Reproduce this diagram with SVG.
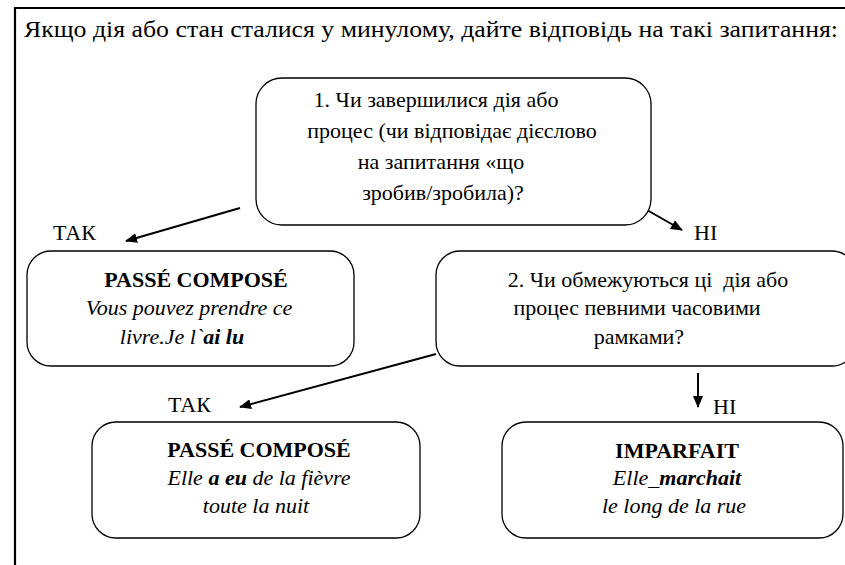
<svg xmlns="http://www.w3.org/2000/svg" width="845" height="565" viewBox="0 0 845 565">
<defs>
  <marker id="ah" markerWidth="12" markerHeight="10" refX="11" refY="5" orient="auto" markerUnits="userSpaceOnUse">
    <path d="M0,0 L12,5 L0,10 Z" fill="#000"/>
  </marker>
</defs>
<rect width="845" height="565" fill="#fff"/>
<g id="frame">
  <path d="M15,565 L15,8 L845,8" fill="none" stroke="#000" stroke-width="2.2"/>
  <text x="24" y="37" font-family="Liberation Serif" font-size="24" textLength="814" lengthAdjust="spacingAndGlyphs">Якщо дія або стан сталися у минулому, дайте відповідь на такі запитання:</text>
</g>
<g id="connectors" stroke="#000" stroke-width="2" fill="none">
  <line x1="240" y1="208" x2="126" y2="241" marker-end="url(#ah)"/>
  <line x1="633" y1="202" x2="682" y2="230" marker-end="url(#ah)"/>
  <line x1="436" y1="354" x2="240" y2="407" marker-end="url(#ah)"/>
  <line x1="698" y1="373" x2="698" y2="407" marker-end="url(#ah)"/>
</g>
<g id="labels">
  <text x="53" y="240" font-family="Liberation Serif" font-size="22">ТАК</text>
  <text x="694" y="240" font-family="Liberation Serif" font-size="22">НІ</text>
  <text x="168" y="412" font-family="Liberation Serif" font-size="22">ТАК</text>
  <text x="713" y="414" font-family="Liberation Serif" font-size="22">НІ</text>
</g>
<g id="node1">
  <rect x="256" y="78" width="395" height="147" rx="26" fill="#fff" stroke="#000" stroke-width="1.3"/>
  <text text-anchor="middle" x="436" y="107" font-family="Liberation Serif" font-size="22">1. Чи завершилися дія або</text>
  <text text-anchor="middle" x="452" y="138" font-family="Liberation Serif" font-size="22">процес (чи відповідає дієслово</text>
  <text text-anchor="middle" x="441" y="169" font-family="Liberation Serif" font-size="22">на запитання «що</text>
  <text text-anchor="middle" x="443" y="200" font-family="Liberation Serif" font-size="22">зробив/зробила)?</text>
</g>
<g id="node-pc1">
  <rect x="27" y="251" width="327" height="115" rx="24" fill="#fff" stroke="#000" stroke-width="1.3"/>
  <text text-anchor="middle" x="196" y="287" font-family="Liberation Serif" font-size="22" font-weight="bold">PASSÉ COMPOSÉ</text>
  <text text-anchor="middle" x="189" y="315" font-family="Liberation Serif" font-size="22" font-style="italic">Vous pouvez prendre ce</text>
  <text text-anchor="middle" x="182" y="344" font-family="Liberation Serif" font-size="22" font-style="italic">livre.Je l`<tspan font-weight="bold">ai lu</tspan></text>
</g>
<g id="node2">
  <rect x="436" y="251" width="420" height="115" rx="24" fill="#fff" stroke="#000" stroke-width="1.3"/>
  <text text-anchor="middle" x="648" y="287" font-family="Liberation Serif" font-size="22" xml:space="preserve">2. Чи обмежуються ці  дія або</text>
  <text text-anchor="middle" x="637" y="315" font-family="Liberation Serif" font-size="22">процес певними часовими</text>
  <text text-anchor="middle" x="639" y="344" font-family="Liberation Serif" font-size="22">рамками?</text>
</g>
<g id="node-pc2">
  <rect x="92" y="422" width="328" height="116" rx="24" fill="#fff" stroke="#000" stroke-width="1.3"/>
  <text text-anchor="middle" x="259" y="457" font-family="Liberation Serif" font-size="22" font-weight="bold">PASSÉ COMPOSÉ</text>
  <text text-anchor="middle" x="259" y="485" font-family="Liberation Serif" font-size="22" font-style="italic">Elle <tspan font-weight="bold">a eu</tspan> de la fièvre</text>
  <text text-anchor="middle" x="256" y="513" font-family="Liberation Serif" font-size="22" font-style="italic">toute la nuit</text>
</g>
<g id="node-imparfait">
  <rect x="502" y="422" width="341" height="116" rx="24" fill="#fff" stroke="#000" stroke-width="1.3"/>
  <text text-anchor="middle" x="677" y="458" font-family="Liberation Serif" font-size="22" font-weight="bold">IMPARFAIT</text>
  <text text-anchor="middle" x="677" y="485" font-family="Liberation Serif" font-size="22" font-style="italic">Elle_<tspan font-weight="bold">marchait</tspan></text>
  <text text-anchor="middle" x="674" y="513" font-family="Liberation Serif" font-size="22" font-style="italic">le long de la rue</text>
</g>
</svg>
